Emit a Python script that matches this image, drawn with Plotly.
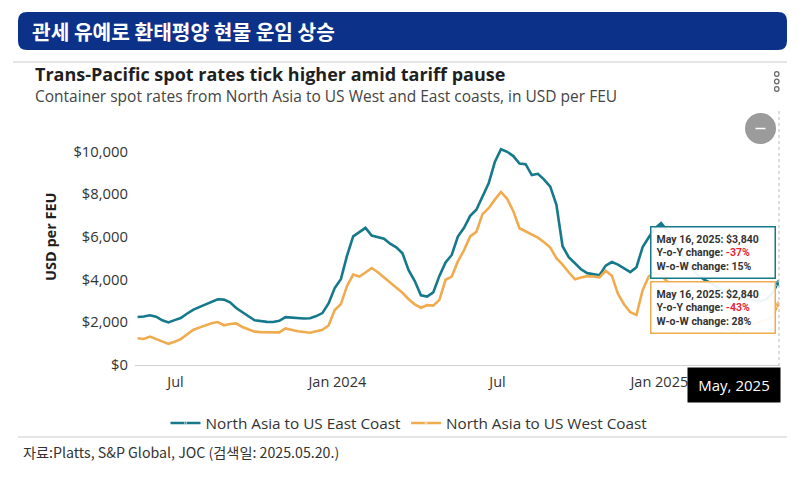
import plotly.graph_objects as go
import pandas as pd

# ---------------- data ----------------
start_date = "2023-05-19"
n_weeks = 105
dates = pd.date_range(start_date, periods=n_weeks, freq="7D")

east_coast = [
    2250, 2270, 2330, 2260, 2090, 1990, 2100, 2200, 2400, 2580,
    2710, 2840, 2960, 3080, 3060, 2930, 2670, 2460, 2280, 2090,
    2050, 2020, 2010, 2065, 2240, 2215, 2190, 2180, 2190, 2290,
    2430, 2880, 3600, 4020, 5120, 6020, 6220, 6420, 6060, 6000,
    5910, 5680, 5510, 5230, 4440, 3930, 3260, 3200, 3400, 4170,
    4800, 5150, 6010, 6420, 6980, 7270, 7900, 8500, 9500, 10100,
    9980, 9780, 9430, 9400, 8890, 8950, 8680, 8350, 7500, 5560,
    5050, 4740, 4480, 4300, 4240, 4200, 4650, 4820, 4700, 4530,
    4350, 4580, 5520, 5980, 6400, 6640, 6300, 5850, 5350, 4900,
    4500, 4200, 4000, 3850, 3650, 3500, 3350, 3250, 3150, 3100,
    3050, 3000, 3050, 3340, 3840,
]
west_coast = [
    1250, 1220, 1330, 1210, 1100, 990, 1090, 1210, 1430, 1640,
    1750, 1850, 1950, 2010, 1860, 1920, 1950, 1780, 1660, 1560,
    1540, 1525, 1525, 1525, 1710, 1640, 1580, 1545, 1510, 1580,
    1650, 1850, 2570, 2850, 3700, 4230, 4140, 4330, 4540, 4340,
    4100, 3850, 3620, 3380, 3080, 2840, 2680, 2800, 2780, 3050,
    3990, 4140, 4850, 5380, 6020, 6230, 7060, 7340, 7740, 8100,
    7780, 7200, 6400, 6250, 6100, 5960, 5750, 5500, 5000, 4700,
    4340, 4010, 4100, 4160, 4140, 4100, 4410, 4180, 3330, 2830,
    2470, 2340, 3500, 4150, 4300, 4200, 3900, 3500, 3200, 2950,
    2700, 2500, 2300, 2100, 1950, 1800, 1650, 1520, 1700, 1800,
    1900, 2000, 2100, 2220, 2840,
]
series_names = ["North Asia to US East Coast", "North Asia to US West Coast"]
series_colors = ["#15798b", "#f0ab4f"]

x_tick_vals = ["2023-07-01", "2024-01-01", "2024-07-01", "2025-01-01"]
x_tick_text = ["Jul", "Jan 2024", "Jul", "Jan 2025"]
y_tick_vals = [0, 2000, 4000, 6000, 8000, 10000]
y_tick_text = ["$0", "$2,000", "$4,000", "$6,000", "$8,000", "$10,000"]

header_text = "관세 유예로 환태평양 현물 운임 상승"
title_text = "Trans-Pacific spot rates tick higher amid tariff pause"
subtitle_text = "Container spot rates from North Asia to US West and East coasts, in USD per FEU"
y_title = "USD per FEU"
source_text = "자료:Platts, S&P Global, JOC (검색일: 2025.05.20.)"
tip_east = ["May 16, 2025: $3,840", "Y-o-Y change: ", "-37%", "W-o-W change: 15%"]
tip_west = ["May 16, 2025: $2,840", "Y-o-Y change: ", "-43%", "W-o-W change: 28%"]
crosshair_label = "May, 2025"

# ---------------- layout geometry (reference-frame pixels) ----------------
OFF = 8                      # page body margin
VIEW_W, VIEW_H = 803, 487
W, H = VIEW_W - OFF, VIEW_H - OFF
L, R_px = 135, 779           # plot area left / right
T_px, B_px = 130, 365        # plot area top / bottom
PW, PH = R_px - L, B_px - T_px


def px(x):
    return (x - L) / PW


def py(y):
    return (B_px - y) / PH


def rounded_rect(x0, y0, x1, y1, r):
    rx, ry = r / PW, r / PH
    X0, X1, Y0, Y1 = px(x0), px(x1), py(y1), py(y0)
    return (f"M {X0+rx},{Y0} L {X1-rx},{Y0} Q {X1},{Y0} {X1},{Y0+ry} "
            f"L {X1},{Y1-ry} Q {X1},{Y1} {X1-rx},{Y1} L {X0+rx},{Y1} "
            f"Q {X0},{Y1} {X0},{Y1-ry} L {X0},{Y0+ry} Q {X0},{Y0} {X0+rx},{Y0} Z")


LATIN = "Open Sans"
TIPF = "Roboto"
KOR = "Noto Sans CJK KR"

fig = go.Figure()
for vals, name, color in zip([east_coast, west_coast], series_names, series_colors):
    fig.add_trace(go.Scatter(
        x=dates, y=vals, name=name, mode="lines+markers",
        line=dict(color=color, width=2.6),
        marker=dict(size=[0] * (len(vals) - 1) + [6], color=color, symbol="diamond"),
        hoverinfo="skip",
    ))

shapes = [
    dict(type="path", xref="paper", yref="paper", path=rounded_rect(18, 12, 787, 50, 9),
         fillcolor="#0c3189", line=dict(width=0), layer="below"),
    dict(type="line", xref="paper", yref="paper", x0=px(13), x1=px(787), y0=py(62), y1=py(62),
         line=dict(color="#dddddd", width=1.5)),
    dict(type="line", xref="paper", yref="paper", x0=px(18), x1=px(787), y0=py(437), y1=py(437),
         line=dict(color="#dddddd", width=1.5)),
    dict(type="line", xref="paper", yref="paper", x0=px(779), x1=px(779), y0=py(366), y1=py(108),
         line=dict(color="#b8b8b8", width=1, dash="dot")),
    dict(type="circle", xref="paper", yref="paper", x0=px(745), x1=px(776), y0=py(113), y1=py(144),
         fillcolor="#9b9b9b", line=dict(width=0)),
    dict(type="line", xref="paper", yref="paper", x0=px(755.5), x1=px(765.5), y0=py(128.5), y1=py(128.5),
         line=dict(color="white", width=1.5)),
]
for cy in (74, 81.5, 89):
    shapes.append(dict(type="circle", xref="paper", yref="paper",
                       x0=px(774.5), x1=px(779), y0=py(cy - 2.3), y1=py(cy + 2.3),
                       line=dict(color="#666666", width=1.2), fillcolor="white"))

annotations = [
    dict(text=f"<b>{header_text}</b>", x=px(30), y=py(31), xanchor="left", yanchor="middle",
         font=dict(family=KOR, size=20.3, color="white")),
    dict(text=f"<b>{title_text}</b>", x=px(33), y=py(73.5), xanchor="left", yanchor="middle",
         font=dict(family=LATIN, size=18, color="#1f1f1f")),
    dict(text=subtitle_text, x=px(33), y=py(96), xanchor="left", yanchor="middle",
         font=dict(family=LATIN, size=15.5, color="#444444")),
    dict(text=f"<b>{y_title}</b>", x=px(50), y=py(237), xanchor="center", yanchor="middle",
         textangle=-90, font=dict(family=LATIN, size=14.5, color="#1f1f1f")),
    dict(text=source_text, x=px(21), y=py(452), xanchor="left", yanchor="middle",
         font=dict(family=KOR, size=14.2, color="#333333")),
    dict(text=(f"<b>{tip_east[0]}<br>{tip_east[1]}<span style='color:#e3263b'>{tip_east[2]}</span>"
               f"<br>{tip_east[3]}</b>"),
         x=px(650), y=py(226), xanchor="left", yanchor="top", align="left", width=113,
         bgcolor="rgba(255,255,255,0.93)", bordercolor=series_colors[0], borderwidth=1.5, borderpad=5,
         font=dict(family=TIPF, size=10.5, color="#333333")),
    dict(text=(f"<b>{tip_west[0]}<br>{tip_west[1]}<span style='color:#e3263b'>{tip_west[2]}</span>"
               f"<br>{tip_west[3]}</b>"),
         x=px(650), y=py(281), xanchor="left", yanchor="top", align="left", width=113,
         bgcolor="rgba(255,255,255,0.93)", bordercolor=series_colors[1], borderwidth=1.5, borderpad=5,
         font=dict(family=TIPF, size=10.5, color="#333333")),
    dict(text=crosshair_label, x=px(733.5), y=py(384.5), xanchor="center", yanchor="middle",
         bgcolor="black", borderpad=7, width=78,
         font=dict(family=LATIN, size=15, color="white")),
]
for a in annotations:
    a.setdefault("xref", "paper")
    a.setdefault("yref", "paper")
    a.setdefault("showarrow", False)

fig.update_layout(
    width=W, height=H,
    margin=dict(l=L - OFF, r=VIEW_W - R_px, t=T_px - OFF, b=VIEW_H - B_px, autoexpand=False),
    paper_bgcolor="white", plot_bgcolor="white",
    font=dict(family=LATIN, size=14.5, color="#333333"),
    showlegend=True,
    legend=dict(orientation="h", x=px(409), xanchor="center", y=py(423), yanchor="middle",
                font=dict(family=LATIN, size=15.3, color="#333333"), itemwidth=30,
                bgcolor="rgba(0,0,0,0)"),
    xaxis=dict(type="date", range=["2023-05-16", "2025-05-17"], tickvals=x_tick_vals,
               ticktext=x_tick_text, showgrid=False, zeroline=False, showline=True,
               linecolor="#d0d0d0", linewidth=1, ticks="", ticklabelstandoff=4,
               tickfont=dict(size=14.5, color="#333333")),
    yaxis=dict(range=[0, 11000], tickvals=y_tick_vals, ticktext=y_tick_text,
               showgrid=False, zeroline=False, showline=False, ticks="", ticklabelstandoff=6,
               tickfont=dict(size=14.8, color="#333333")),
    shapes=shapes, annotations=annotations,
)

fig.write_html("out.html")
